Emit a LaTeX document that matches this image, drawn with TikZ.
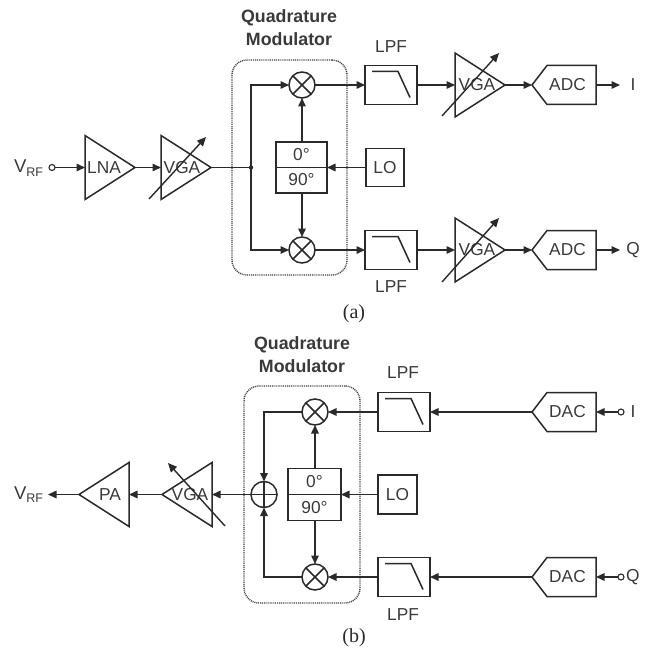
\documentclass[tikz,border=0pt]{standalone}
\usepackage{fontspec}
\setmainfont{Liberation Sans}
\newfontfamily\capfont{Liberation Serif}
\usetikzlibrary{arrows.meta}
\definecolor{ink}{HTML}{2A2A2A}
\definecolor{txt}{HTML}{3A3A3A}
\tikzset{
  x=1pt,y=-1pt,
  wire/.style={draw=ink,line width=1.5pt},
  arr/.style={wire,-{Triangle[length=8.5pt,width=7.5pt]}},
  gainarrow/.style={draw=ink,line width=1.4pt,-{Triangle[length=9pt,width=8pt]}},
  box/.style={draw=ink,line width=1.5pt,rectangle,inner sep=0pt,outer sep=0pt},
  mix/.style={draw=ink,line width=1.5pt,circle,minimum size=26pt,inner sep=0pt,outer sep=0pt},
  port/.style={draw=ink,line width=1.1pt,circle,minimum size=6pt,inner sep=0pt,outer sep=0pt,fill=white},
  lab/.style={inner sep=0pt,outer sep=0pt,text=txt,font=\fontsize{17.3}{17.3}\selectfont},
  titlelab/.style={inner sep=0pt,text=txt,font=\bfseries\fontsize{17.8}{23}\selectfont,align=center},
  caplab/.style={inner sep=0pt,text=ink,font=\capfont\fontsize{20}{20}\selectfont},
  modbox/.style={draw=ink!90,line width=1.4pt,dash pattern=on 1pt off 0.9pt,rounded corners=15pt},
  outline/.style={draw=ink,line width=1.5pt,line join=miter}
}
% \amp{name}{tip x}{base x}{y}{half height}{label x}{text}
\newcommand{\amp}[7]{%
  \coordinate (#1-tip) at (#2,#4);
  \coordinate (#1-base) at (#3,#4);
  \draw[outline] (#3,#4-#5) -- (#1-tip) -- (#3,#4+#5) -- cycle;
  \node[lab] (#1-lab) at (#6,#4) {#7};
}
% \conv{name}{tip x}{shoulder x}{right x}{y}{text}
\newcommand{\conv}[6]{%
  \coordinate (#1-tip) at (#2,#5);
  \coordinate (#1-right) at (#4,#5);
  \draw[outline] (#1-tip) -- (#3,#5-19.5) -- (#4,#5-19.5) -- (#4,#5+19.5) -- (#3,#5+19.5) -- cycle;
  \node[lab] (#1-lab) at ({(#3+#4)/2-4},#5) {#6};
}
% \lpf{name}{centre x}{centre y}
\newcommand{\lpf}[3]{%
  \node[box,minimum width=52pt,minimum height=39pt] (#1) at (#2,#3) {};
  \draw[wire] (#2-19,#3-13.5) -- (#2+7,#3-13.5) -- (#2+19,#3+12.5);
}
\newcommand{\mixer}[3]{%
  \node[mix] (#1) at (#2,#3) {};
  \draw[wire] (#1.45) -- (#1.225) (#1.135) -- (#1.315);
}
\newcommand{\vrf}{\fontsize{18.5}{18.5}\selectfont V\raisebox{-3.5pt}{\fontsize{12.5}{12.5}\selectfont RF}}
\begin{document}
\begin{tikzpicture}
\useasboundingbox[fill=white] (0,0) rectangle (649,650);

% ===== (a) =====
\node[titlelab] (qa) at (289,27.5) {Quadrature\\Modulator};
\node[modbox,minimum width=115pt,minimum height=215pt,inner sep=0pt] (moda) at (289.5,167.5) {};
\node[lab,anchor=west] (vrfa) at (14,168) {\vrf};
\node[port] (pa) at (52,167.5) {};
\amp{lna}{135}{85}{167.5}{32}{104}{LNA}
\amp{vga1}{211}{161}{167.5}{32}{182}{VGA}
\coordinate (g1a) at (149,199); \coordinate (g1b) at (206,137);
\draw[gainarrow] (g1a) -- (g1b);
\draw[arr] (pa) -- (lna-base);
\draw[arr] (lna-tip) -- (vga1-base);
\coordinate (ja) at (251,167.5);
\draw[wire] (vga1-tip) -- (ja);
\fill[ink] (ja) circle (2.2pt);
\mixer{m1}{302}{85}
\mixer{m2}{302}{250}
\draw[arr] (ja) |- (m1.west);
\draw[arr] (ja) |- (m2.west);
\node[box,minimum width=51pt,minimum height=51pt] (pha) at (301.5,167.5) {};
\draw[wire] (pha.west) -- (pha.east);
\node[lab] (pha0) at (301.5,155) {0°};
\node[lab] (pha9) at (301.5,180) {90°};
\draw[arr] (pha.north -| m1) -- (m1.south);
\draw[arr] (pha.south -| m2) -- (m2.north);
\node[box,minimum width=38pt,minimum height=38pt] (loa) at (385,167.5) {};
\node[lab] (loat) at (385,167.5) {LO};
\draw[arr] (loa.west) -- (pha.east);
\lpf{fa1}{391}{85}
\lpf{fa2}{391}{250}
\node[lab] (fa1t) at (391,47) {LPF};
\node[lab] (fa2t) at (391,287) {LPF};
\draw[arr] (m1.east) -- (fa1.west);
\draw[arr] (m2.east) -- (fa2.west);
\amp{vga2}{505}{455}{85}{32}{477}{VGA}
\amp{vga3}{505}{455}{250}{32}{477}{VGA}
\coordinate (g2a) at (442,116); \coordinate (g2b) at (499,53);
\coordinate (g3a) at (442,282); \coordinate (g3b) at (499,218);
\draw[gainarrow] (g2a) -- (g2b);
\draw[gainarrow] (g3a) -- (g3b);
\draw[arr] (fa1.east) -- (vga2-base);
\draw[arr] (fa2.east) -- (vga3-base);
\conv{adc1}{532}{547}{596}{85}{ADC}
\conv{adc2}{532}{547}{596}{250}{ADC}
\draw[arr] (vga2-tip) -- (adc1-tip);
\draw[arr] (vga3-tip) -- (adc2-tip);
\node[lab] (oi) at (633,85) {I};
\node[lab] (oq) at (633,250) {Q};
\coordinate (oia) at (620,85); \coordinate (oqa) at (620,250);
\draw[arr] (adc1-right) -- (oia);
\draw[arr] (adc2-right) -- (oqa);
\node[caplab] (capa) at (354,314) {(a)};

% ===== (b) =====
\node[titlelab] (qb) at (302,354.5) {Quadrature\\Modulator};
\node[modbox,minimum width=116pt,minimum height=217pt,inner sep=0pt] (modb) at (302,494.5) {};
\mixer{m3}{315}{412}
\mixer{m4}{315}{577}
\node[mix] (sum) at (264,494.5) {};
\draw[wire] (sum.north) -- (sum.south) (sum.west) -- (sum.east);
\draw[arr] (m3.west) -| (sum.north);
\draw[arr] (m4.west) -| (sum.south);
\node[box,minimum width=53pt,minimum height=52pt] (phb) at (314.5,494.5) {};
\draw[wire] (phb.west) -- (phb.east);
\node[lab] (phb0) at (314.5,482) {0°};
\node[lab] (phb9) at (314.5,508) {90°};
\draw[arr] (phb.north -| m3) -- (m3.south);
\draw[arr] (phb.south -| m4) -- (m4.north);
\node[box,minimum width=39pt,minimum height=39pt] (lob) at (397.5,494.5) {};
\node[lab] (lobt) at (397.5,494.5) {LO};
\draw[arr] (lob.west) -- (phb.east);
\lpf{fb1}{404}{412}
\lpf{fb2}{404}{577}
\node[lab] (fb1t) at (403,373) {LPF};
\node[lab] (fb2t) at (403,615) {LPF};
\draw[arr] (fb1.west) -- (m3.east);
\draw[arr] (fb2.west) -- (m4.east);
\conv{dac1}{532}{547}{596}{412}{DAC}
\conv{dac2}{532}{547}{596}{577}{DAC}
\draw[arr] (dac1-tip) -- (fb1.east);
\draw[arr] (dac2-tip) -- (fb2.east);
\node[port] (pi) at (621,412) {};
\node[port] (pq) at (621,577) {};
\node[lab] (ii) at (633,412) {I};
\node[lab,anchor=west] (iq) at (626,577) {Q};
\draw[arr] (pi) -- (dac1-right);
\draw[arr] (pq) -- (dac2-right);
\amp{vga4}{162}{212}{494.5}{32}{190}{VGA}
\amp{pa}{79}{129}{494.5}{32}{110}{PA}
\coordinate (g4a) at (225,526); \coordinate (g4b) at (168,463);
\draw[gainarrow] (g4a) -- (g4b);
\draw[arr] (sum.west) -- (vga4-base);
\draw[arr] (vga4-tip) -- (pa-base);
\node[lab,anchor=west] (vrfb) at (14,494.5) {\vrf};
\coordinate (vrfbtip) at (48,494.5);
\draw[arr] (pa-tip) -- (vrfbtip);
\node[caplab] (capb) at (354,638) {(b)};
\end{tikzpicture}
\end{document}
